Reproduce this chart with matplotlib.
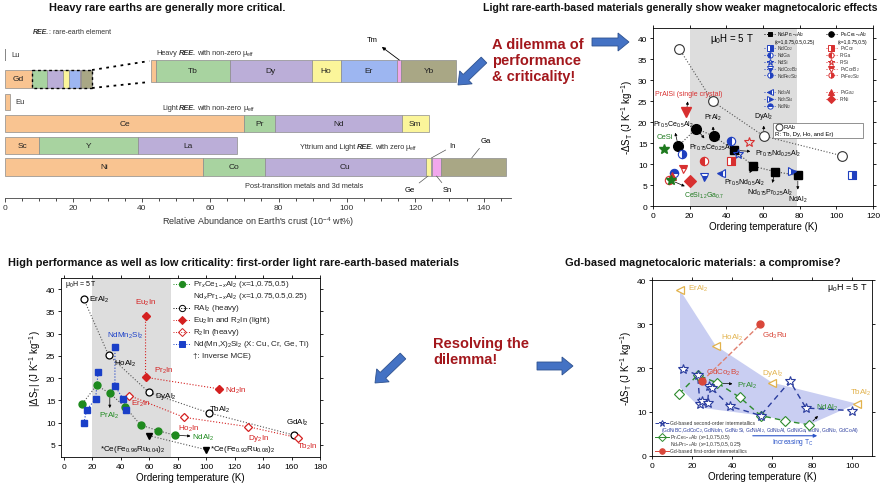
import matplotlib
matplotlib.use('Agg')
import matplotlib.pyplot as plt
from matplotlib.patches import FancyArrow, Rectangle
from matplotlib.transforms import IdentityTransform
import numpy as np

plt.rcParams['font.family'] = ['Liberation Sans', 'DejaVu Sans']
plt.rcParams['mathtext.fontset'] = 'custom'
plt.rcParams['mathtext.rm'] = 'Liberation Sans'
plt.rcParams['mathtext.it'] = 'Liberation Sans:italic'
plt.rcParams['mathtext.bf'] = 'Liberation Sans:bold'
plt.rcParams['axes.linewidth'] = 0.6

# ================= DATA =================
# Panel A: relative abundance on Earth's crust (1e-4 wt%)
lu_abund = 0.3
heavy_names = ['Gd', 'Tb', 'Dy', 'Ho', 'Er', 'Tm', 'Yb']
heavy_abund = [7.9, 4.3, 4.8, 1.7, 3.3, 0.25, 3.2]
eu_abund = 1.4
light_names = ['Ce', 'Pr', 'Nd', 'Sm']
light_abund = [70.0, 9.0, 37.0, 8.0]
zero_names = ['Sc', 'Y', 'La']
zero_abund = [10.0, 29.0, 29.0]
metal_names = ['Ni', 'Co', 'Cu', 'Ge', 'In', 'Sn', 'Ga']
metal_abund = [58.0, 18.0, 47.0, 1.5, 0.4, 2.6, 19.0]

# Panel B: light rare-earth based materials
b_RAl2_T = [14.4, 32.5, 60.4, 103.0]
b_RAl2_S = [37.5, 25.0, 16.7, 12.0]
b_PrCe_T = [13.8, 23.6, 33.0]
b_PrCe_S = [14.3, 18.5, 16.7]
b_NdPr_T = [44.4, 54.7, 66.5, 79.0]
b_NdPr_S = [13.3, 9.5, 8.2, 7.3]
nd_names = ['NdCo$_2$', 'NdGa', 'NdSi', 'NdCo$_2$B$_2$', 'NdFe$_2$Si$_2$',
            'Nd$_3$Al', 'Nd$_5$Si$_4$', 'NdNi$_2$']
nd_T = [108.5, 42.4, 46.5, 27.6, 15.6, 37.0, 75.8, 11.6]
nd_S = [7.3, 15.5, 12.5, 7.0, 12.3, 7.8, 8.3, 7.8]
pr_names = ['PrCo$_2$', 'PrGa', 'PrSi', 'PrCo$_2$B$_2$', 'PrFe$_2$Si$_2$',
            'PrGa$_2$', 'PrNi']
pr_T = [42.7, 27.6, 52.4, 16.4, 8.5, 10.4, 20.4]
pr_S = [10.7, 10.7, 15.2, 8.9, 6.3, 7.1, 6.0]
pralsi_T = [18.2]
pralsi_S = [22.4]
cesi_T = [6.2, 10.0]
cesi_S = [13.7, 6.1]

# Panel C: first-order light rare-earth based materials
c_PrNd_T = [13.1, 23.0, 32.3, 42.9, 53.9, 66.3, 78.0]
c_PrNd_S = [14.3, 18.4, 16.6, 13.6, 9.5, 8.2, 7.2]
c_RAl2_T = [14.0, 31.4, 59.8, 102.0, 162.0]
c_RAl2_S = [37.8, 25.2, 16.8, 12.2, 7.2]
c_R2In_light_T = [57.4, 57.4, 109.2]
c_R2In_light_S = [34.0, 20.2, 17.6]
c_R2In_heavy_T = [46.0, 84.6, 129.6, 164.8]
c_R2In_heavy_S = [16.1, 11.2, 9.1, 6.6]
c_NdMnX_T = [14.0, 16.0, 22.3, 24.1, 35.9, 35.9, 41.7, 43.6]
c_NdMnX_S = [9.9, 12.9, 15.3, 21.4, 27.0, 18.3, 15.3, 12.9]
c_CeFeRu_T = [59.8, 99.9]
c_CeFeRu_S = [7.1, 3.95]

# Panel D: Gd-based materials
d_RAl2_T = [14.0, 31.8, 60.0, 102.3]
d_RAl2_S = [37.7, 25.1, 16.7, 11.9]
d_Gd2nd_T = [15.3, 22.8, 24.0, 25.2, 27.8, 28.5, 29.8, 39.0, 54.3, 69.0, 77.0, 100.2]
d_Gd2nd_S = [19.8, 18.4, 11.8, 12.6, 12.0, 16.0, 15.4, 11.3, 9.2, 17.0, 10.9, 10.3]
d_PrNd_T = [13.5, 22.8, 32.7, 44.0, 54.3, 66.5, 78.5]
d_PrNd_S = [14.1, 18.4, 16.6, 13.3, 9.2, 8.0, 7.1]
d_Gd1st_T = [25.0, 54.2]
d_Gd1st_S = [17.0, 29.9]
shade_low_T = [14.0, 24.0, 54.3, 78.5, 102.3]
shade_low_S = [15.5, 11.0, 9.2, 7.1, 11.9]

# ================= FIGURE =================
W, H = 886, 489
fig = plt.figure(figsize=(W / 100, H / 100), dpi=100)
R = fig.canvas.get_renderer()


def add_ax(l, t, r, b):
    return fig.add_axes([l / W, 1 - b / H, (r - l) / W, (b - t) / H])


def ftext(x, y, s, **kw):
    return fig.text(x / W, 1 - y / H, s, **kw)


def block_arrow(x0, y0, x1, y1, w=8, hw=18, hl=11):
    a = FancyArrow(x0 / 100, (H - y0) / 100, (x1 - x0) / 100, -(y1 - y0) / 100,
                   width=w / 100, head_width=hw / 100, head_length=hl / 100,
                   length_includes_head=True, transform=fig.dpi_scale_trans,
                   fc='#4472C4', ec='#2F528F', lw=0.6)
    fig.add_artist(a)


C_OR = '#F9C491'; C_GR = '#A8D3A0'; C_PU = '#BBAED8'; C_YE = '#FBF59A'
C_BL = '#9DB6F1'; C_PK = '#F1A7EC'; C_OL = '#A9A785'; C_IN = '#E4EEFA'
EDGE = '#8c8c8c'

# ---------------- Panel A ----------------
ax1 = add_ax(5, 20, 511, 199)
ax1.set_xlim(0, 148)
ax1.set_ylim(199, 20)


def stacked(names, vals, start, yc, h, colors, labeled, scale=1.0, fs=6):
    left = start
    for n, v, c, lab in zip(names, vals, colors, labeled):
        w = v * scale
        ax1.barh(yc, w, left=left, height=h, color=c, edgecolor=EDGE, lw=0.5)
        if lab:
            ax1.text(left + w / 2, yc, n, ha='center', va='center', fontsize=fs, color='#222')
        left += w
    return left


heavy_cols = [C_OR, C_GR, C_PU, C_YE, C_BL, C_PK, C_OL]
ax1.barh(56, lu_abund, height=12, color='#888888', lw=0)
ax1.text(2.0, 56, 'Lu', fontsize=5.5, va='center', color='#333')
end_small = stacked(heavy_names, heavy_abund, 0, 80, 18, heavy_cols,
                    [True] + [False] * 6, fs=6)
ax1.add_patch(Rectangle((heavy_abund[0], 71), end_small - heavy_abund[0], 18,
                        fill=False, ec='k', lw=1.0, ls=(0, (2, 2)), zorder=3))
zoom_start, gd_tip, mag = 42.7, 1.5, 5.0
ax1.barh(72, gd_tip, left=zoom_start, height=22, color=C_OR, edgecolor=EDGE, lw=0.5)
stacked(heavy_names[1:], heavy_abund[1:], zoom_start + gd_tip, 72, 22, heavy_cols[1:],
        [True, True, True, True, False, True], scale=mag, fs=6)
ax1.plot([end_small, zoom_start - 0.5], [71, 62], ls=(0, (1.5, 2.5)), color='k', lw=1.3)
ax1.plot([end_small, zoom_start - 0.5], [89, 83], ls=(0, (1.5, 2.5)), color='k', lw=1.3)
ax1.barh(103, eu_abund, height=16, color=C_OR, edgecolor=EDGE, lw=0.5)
ax1.text(3.0, 103, 'Eu', fontsize=5.5, va='center', color='#333')
stacked(light_names, light_abund, 0, 124.5, 17, [C_OR, C_GR, C_PU, C_YE], [True] * 4)
stacked(zero_names, zero_abund, 0, 146.5, 17, [C_OR, C_GR, C_PU], [True] * 3)
stacked(metal_names, metal_abund, 0, 168, 18, [C_OR, C_GR, C_PU, C_YE, C_IN, C_PK, C_OL],
        [True, True, True, False, False, False, False])

cum_m = np.cumsum([0] + metal_abund)
tm_x = zoom_start + gd_tip + mag * sum(heavy_abund[1:5]) + mag * heavy_abund[5] / 2
ax1.annotate('Tm', xy=(tm_x, 61), xytext=(107.5, 41), fontsize=5.5, ha='center', va='center',
             arrowprops=dict(arrowstyle='<|-', color='k', lw=0.6, mutation_scale=5,
                             shrinkA=1, shrinkB=0))
line_kw = dict(arrowstyle='-', color='#555', lw=0.5, shrinkA=1, shrinkB=0)
ax1.annotate('In', xy=((cum_m[4] + cum_m[5]) / 2, 159), xytext=(131.0, 147), fontsize=5.5,
             ha='center', va='center', arrowprops=line_kw)
ax1.annotate('Ge', xy=((cum_m[3] + cum_m[4]) / 2, 177), xytext=(118.5, 191), fontsize=5.5,
             ha='center', va='center', arrowprops=line_kw)
ax1.annotate('Sn', xy=((cum_m[5] + cum_m[6]) / 2, 177), xytext=(129.5, 191), fontsize=5.5,
             ha='center', va='center', arrowprops=line_kw)
ax1.annotate('Ga', xy=(136.5, 159), xytext=(140.5, 142), fontsize=5.5,
             ha='center', va='center', arrowprops=line_kw)


def twidth(s, fs, **kw):
    t = fig.text(0, 0, s, fontsize=fs, **kw)
    w = t.get_window_extent(R).width
    t.remove()
    return w


def chain(ax, x, y, parts, fs):
    X, Y = ax.transData.transform((x, y))
    sp = 0.6 * (twidth('x x', fs) - twidth('xx', fs))
    for s, kw in parts:
        if s.startswith(' '):
            X += sp
        st = s.strip()
        t = fig.text(X, Y, st, fontsize=fs, va='baseline', ha='left', color='#333',
                     transform=IdentityTransform(), **kw)
        X += t.get_window_extent(R).width
        if s.endswith(' '):
            X += sp


BI = dict(fontweight='bold', fontstyle='italic')
chain(ax1, 8.2, 34, [('REE.', BI), (': rare-earth element', {})], 5)
chain(ax1, 44.4, 55.5, [('Heavy ', {}), ('REE.', BI), (' with non-zero', {}),
                        (' μ$_{\\rm eff}$', {})], 5.3)
chain(ax1, 45.9, 110.5, [('Light ', {}), ('REE.', BI), (' with non-zero', {}),
                         (' μ$_{\\rm eff}$', {})], 5.3)
chain(ax1, 86.3, 149.5, [('Yttrium and Light ', {}), ('REE.', BI), (' with zero', {}),
                         (' μ$_{\\rm eff}$', {})], 5.3)
ax1.text(70.2, 187, 'Post-transition metals and 3d metals', fontsize=5.3, va='center', color='#333')

for sp in ['top', 'right', 'left']:
    ax1.spines[sp].set_visible(False)
ax1.spines['bottom'].set_color('#444')
ax1.set_yticks([])
ax1.set_xticks(np.arange(0, 141, 20))
ax1.set_xticks(np.arange(0, 148, 5), minor=True)
ax1.tick_params(axis='x', labelsize=6, length=3, width=0.6, pad=1.5, colors='#333')
ax1.tick_params(axis='x', which='minor', length=1.8, width=0.5)
ax1.set_xlabel("Relative Abundance on Earth's crust (10$^{-4}$ wt%)", fontsize=6.5,
               labelpad=2, color='#333')


def style_ax(ax):
    ax.tick_params(labelsize=6, length=2.5, width=0.6, pad=1.5, direction='out',
                   right=True, top=True)


def key(ax, xc, yc, marker, color, fs='full', ms=4, ls=':', halfw=0.025, mfc=None, mew=0.7):
    ax.plot([xc - halfw, xc + halfw], [yc, yc], transform=ax.transAxes, ls=ls, color=color,
            lw=0.7, clip_on=False)
    ax.plot([xc], [yc], transform=ax.transAxes, marker=marker, color=color, fillstyle=fs,
            markerfacecoloralt='white', mfc=mfc if mfc else color, mec=color, ms=ms,
            mew=mew, ls='none', clip_on=False)


# ---------------- Panel B ----------------
ax2 = add_ax(653, 29, 873, 207)
ax2.set_xlim(0, 120)
ax2.set_ylim(0, 42.5)
ax2.axvspan(20, 78.5, color='#DDDDDD', lw=0, zorder=0)
ax2.plot(b_RAl2_T, b_RAl2_S, ls=':', color='#555', lw=0.8, marker='o', mfc='white',
         mec='#333', ms=7, mew=0.8, zorder=3)
ax2.plot(b_PrCe_T + b_NdPr_T[:1], b_PrCe_S + b_NdPr_S[:1], ls=':', color='#444', lw=0.8, zorder=2)
ax2.plot(b_NdPr_T, b_NdPr_S, ls=':', color='#444', lw=0.8, zorder=2)
ax2.plot(b_PrCe_T, b_PrCe_S, ls='none', marker='o', color='k', ms=7, zorder=3)
ax2.plot(b_NdPr_T, b_NdPr_S, ls='none', marker='s', color='k', ms=6, zorder=3)

BLUE2 = '#1F3FBF'
RED2 = '#D83030'
GREEN2 = '#1E7A1E'
nd_styles = [('s', 'right'), ('o', 'left'), ('*', 'none'), ('v', 'bottom'), ('o', 'right'),
             ('<', 'left'), ('>', 'right'), ('o', 'top')]
pr_styles = [('s', 'right'), ('o', 'left'), ('*', 'none'), ('v', 'top'), ('o', 'right'),
             ('^', 'full'), ('D', 'full')]
for T, S, (m, f) in zip(nd_T, nd_S, nd_styles):
    ax2.plot([T], [S], marker=m, fillstyle=f, color=BLUE2, mec=BLUE2, markerfacecoloralt='white',
             ms=7 if m == '*' else 6, mew=0.8, ls='none', zorder=4)
for T, S, (m, f) in zip(pr_T, pr_S, pr_styles):
    ax2.plot([T], [S], marker=m, fillstyle=f, color=RED2, mec=RED2, markerfacecoloralt='white',
             ms=7 if m == '*' else 6, mew=0.8, ls='none', zorder=4)
ax2.plot(pralsi_T, pralsi_S, marker='v', color=RED2, ms=7, ls='none', zorder=4)
ax2.plot(cesi_T, cesi_S, marker='*', color=GREEN2, ms=7.5, ls='none', zorder=4)

akw = dict(arrowstyle='<|-', color='k', lw=0.5, mutation_scale=4, shrinkA=1, shrinkB=4)
ax2.annotate('PrAlSi (single crystal)', xy=(pralsi_T[0], pralsi_S[0]), xytext=(19.5, 26.8),
             fontsize=5, color=RED2, ha='center', va='center', arrowprops=akw)
ax2.annotate('Pr$_{0.5}$Ce$_{0.5}$Al$_2$', xy=(b_PrCe_T[0], b_PrCe_S[0]), xytext=(11, 19.7),
             fontsize=5, ha='center', va='center', arrowprops=akw)
ax2.annotate('PrAl$_2$', xy=(b_PrCe_T[2], b_PrCe_S[2]), xytext=(32.5, 21.2),
             fontsize=5, ha='center', va='center', arrowprops=akw)
ax2.annotate('Pr$_{0.75}$Ce$_{0.25}$Al$_2$', xy=(b_PrCe_T[1], b_PrCe_S[1]), xytext=(32, 14.0),
             fontsize=5, ha='center', va='center', arrowprops=akw)
ax2.annotate('Pr$_{0.75}$Nd$_{0.25}$Al$_2$', xy=(b_NdPr_T[0], b_NdPr_S[0]), xytext=(68, 12.6),
             fontsize=5, ha='center', va='center', arrowprops=akw)
ax2.annotate('Pr$_{0.5}$Nd$_{0.5}$Al$_2$', xy=(b_NdPr_T[1], b_NdPr_S[1]), xytext=(50, 5.7),
             fontsize=5, ha='center', va='center', arrowprops=akw)
ax2.annotate('Nd$_{0.75}$Pr$_{0.25}$Al$_2$', xy=(b_NdPr_T[2], b_NdPr_S[2]), xytext=(64, 3.3),
             fontsize=5, ha='center', va='center', arrowprops=akw)
ax2.annotate('NdAl$_2$', xy=(b_NdPr_T[3], b_NdPr_S[3]), xytext=(79, 1.7),
             fontsize=5, ha='center', va='center', arrowprops=akw)
ax2.annotate('DyAl$_2$', xy=(b_RAl2_T[2], b_RAl2_S[2]), xytext=(60.4, 21.5),
             fontsize=5, ha='center', va='center', arrowprops=akw)
ax2.text(6.5, 16.5, 'CeSi', fontsize=5.5, color=GREEN2, ha='center', va='center')
ax2.annotate('CeSi$_{1.2}$Ga$_{0.7}$', xy=(cesi_T[1], cesi_S[1]), xytext=(28, 2.7),
             fontsize=5, color=GREEN2, ha='center', va='center',
             arrowprops=dict(arrowstyle='<|-', color='k', lw=0.5, mutation_scale=4,
                             shrinkA=1, shrinkB=3))
ax2.text(43, 40.2, 'μ$_0$H = 5 T', fontsize=7, ha='center', va='center')

ax2.add_patch(Rectangle((65.5, 16.3), 49, 3.6, fc='white', ec='#666', lw=0.5, zorder=5))
ax2.plot([68.7], [18.9], marker='o', mfc='white', mec='#333', ms=5, mew=0.7, zorder=6)
ax2.text(71, 18.9, 'RAl$_2$', fontsize=4.3, va='center', zorder=6)
ax2.text(66.5, 17.2, 'R: Tb, Dy, Ho, and Er)', fontsize=4.3, va='center', zorder=6)


def yrow(i):
    return 1 - (35 + 6.9 * i - 29) / 178


LF = 3.4
c1h, c1t, c2h, c2t = 0.53, 0.565, 0.81, 0.85
key(ax2, c1h, yrow(0), 's', 'k', ms=3.5)
ax2.text(c1t, yrow(0), 'Nd$_x$Pr$_{1-x}$Al$_2$', transform=ax2.transAxes, fontsize=LF, va='center')
ax2.text(c1t - 0.01, yrow(1.1), '(x=1,0.75,0.5,0.25)', transform=ax2.transAxes, fontsize=3.4, va='center')
key(ax2, c2h, yrow(0), 'o', 'k', ms=4)
ax2.text(c2t, yrow(0), 'Pr$_x$Ce$_{1-x}$Al$_2$', transform=ax2.transAxes, fontsize=LF, va='center')
ax2.text(c2t - 0.01, yrow(1.1), '(x=1,0.75,0.5)', transform=ax2.transAxes, fontsize=3.4, va='center')
nd_rows = [2, 3, 4, 5, 6, 8.4, 9.4, 10.4]
pr_rows = [2, 3, 4, 5, 6, 8.4, 9.4]
for n, r, (m, f) in zip(nd_names, nd_rows, nd_styles):
    key(ax2, c1h, yrow(r), m, BLUE2, fs=f, ms=4.5 if m == '*' else 3.8)
    ax2.text(c1t, yrow(r), n, transform=ax2.transAxes, fontsize=LF, va='center', color='#333')
for n, r, (m, f) in zip(pr_names, pr_rows, pr_styles):
    key(ax2, c2h, yrow(r), m, RED2, fs=f, ms=4.5 if m == '*' else 3.8)
    ax2.text(c2t, yrow(r), n, transform=ax2.transAxes, fontsize=LF, va='center', color='#333')

style_ax(ax2)
ax2.set_xticks(np.arange(0, 121, 20))
ax2.set_yticks(np.arange(0, 41, 5))
ax2.set_xlabel('Ordering temperature (K)', fontsize=7, labelpad=2)
ax2.set_ylabel('-ΔS$_\\mathrm{T}$ (J K$^{-1}$ kg$^{-1}$)', fontsize=7, labelpad=2)

# ---------------- Panel C ----------------
ax3 = add_ax(61, 279, 320, 458)
ax3.set_xlim(-2, 180)
ax3.set_ylim(2.3, 42.5)
ax3.axvspan(20, 75, color='#DDDDDD', lw=0, zorder=0)
GREEN3 = '#1E8A1E'; RED3 = '#D42020'; BLUE3 = '#1A3FC8'
ax3.plot(c_RAl2_T, c_RAl2_S, ls=':', color='#555', lw=0.8, zorder=2)
ax3.plot(c_PrNd_T, c_PrNd_S, ls=':', color='#555', lw=0.8, zorder=2)
ax3.plot(c_R2In_light_T, c_R2In_light_S, ls=':', color=RED3, lw=0.8, zorder=2)
ax3.plot(c_R2In_heavy_T, c_R2In_heavy_S, ls=':', color=RED3, lw=0.8, zorder=2)
ax3.plot(c_NdMnX_T[:4], c_NdMnX_S[:4], ls=':', color=BLUE3, lw=0.8, zorder=2)
ax3.plot(c_NdMnX_T[4:], c_NdMnX_S[4:], ls=':', color=BLUE3, lw=0.8, zorder=2)
ax3.plot(c_CeFeRu_T, c_CeFeRu_S, ls=':', color='#555', lw=0.8, zorder=2)
ax3.plot(c_RAl2_T, c_RAl2_S, ls='none', marker='o', mfc='white', mec='k', ms=5, mew=0.9, zorder=4)
ax3.plot(c_PrNd_T, c_PrNd_S, ls='none', marker='o', color=GREEN3, ms=5, zorder=4)
ax3.plot(c_R2In_light_T, c_R2In_light_S, ls='none', marker='D', color=RED3, ms=4.5, zorder=4)
ax3.plot(c_R2In_heavy_T, c_R2In_heavy_S, ls='none', marker='D', mfc='white', mec=RED3, ms=4.5,
         mew=0.9, zorder=4)
ax3.plot(c_NdMnX_T, c_NdMnX_S, ls='none', marker='s', color=BLUE3, ms=4.5, zorder=4)
ax3.plot(c_CeFeRu_T, c_CeFeRu_S, ls='none', marker='v', color='k', ms=5, zorder=4)

LFS = 5.8
ax3.text(1, 41.3, 'μ$_0$H = 5 T', fontsize=5, va='center')
ax3.text(18, 37.8, 'ErAl$_2$', fontsize=LFS, va='center')
ax3.text(57.5, 37.2, 'Eu$_2$In', fontsize=LFS, va='center', ha='center', color=RED3)
ax3.text(43, 29.7, 'NdMn$_2$Si$_2$', fontsize=LFS, va='center', ha='center', color=BLUE3)
ax3.text(35, 23.5, 'HoAl$_2$', fontsize=LFS, va='center')
ax3.text(63, 21.8, 'Pr$_2$In', fontsize=LFS, va='center', color=RED3)
ax3.text(113, 17.4, 'Nd$_2$In', fontsize=LFS, va='center', color=RED3)
ax3.text(64, 16.1, 'DyAl$_2$', fontsize=LFS, va='center')
ax3.text(47.5, 14.4, 'Er$_2$In', fontsize=LFS, va='center', color=RED3)
ax3.text(102, 13.2, 'TbAl$_2$', fontsize=LFS, va='center')
ax3.text(32, 11.8, 'PrAl$_2$', fontsize=LFS, va='center', ha='center', color=GREEN3)
ax3.text(88, 8.9, 'Ho$_2$In', fontsize=LFS, va='center', ha='center', color=RED3)
ax3.text(164, 10.1, 'GdAl$_2$', fontsize=LFS, va='center', ha='center')
ax3.text(137, 6.6, 'Dy$_2$In', fontsize=LFS, va='center', ha='center', color=RED3)
ax3.text(171, 4.8, 'Tb$_2$In', fontsize=LFS, va='center', ha='center', color=RED3)
ax3.text(90, 6.9, 'NdAl$_2$', fontsize=LFS, va='center', color=GREEN3)
ax3.text(48.5, 4.1, '*Ce(Fe$_{0.96}$Ru$_{0.04}$)$_2$', fontsize=LFS, va='center', ha='center')
ax3.text(103, 4.1, '*Ce(Fe$_{0.92}$Ru$_{0.08}$)$_2$', fontsize=LFS, va='center')
ax3.annotate('', xy=(32.3, 13.3), xytext=(c_PrNd_T[2], c_PrNd_S[2]),
             arrowprops=dict(arrowstyle='-|>', color='k', lw=0.5, mutation_scale=4, shrinkA=3, shrinkB=0))
ax3.annotate('', xy=(89, 7.0), xytext=(c_PrNd_T[6], c_PrNd_S[6]),
             arrowprops=dict(arrowstyle='-|>', color='k', lw=0.5, mutation_scale=4, shrinkA=3, shrinkB=0))


def yrow3(py):
    return 1 - (py - 279) / 179


h3, t3 = 0.467, 0.51
rows3 = [285, 297, 309, 321, 333, 345, 357]
key(ax3, h3, yrow3(rows3[0]), 'o', GREEN3, ms=4.5, halfw=0.033)
key(ax3, h3, yrow3(rows3[2]), 'o', 'k', fs='none', ms=4.5, halfw=0.033)
key(ax3, h3, yrow3(rows3[3]), 'D', RED3, ms=4, halfw=0.033)
key(ax3, h3, yrow3(rows3[4]), 'D', RED3, fs='none', ms=4, halfw=0.033)
key(ax3, h3, yrow3(rows3[5]), 's', BLUE3, ms=4, halfw=0.033)
leg3 = ['Pr$_x$Ce$_{1-x}$Al$_2$ (x=1,0.75,0.5)', 'Nd$_x$Pr$_{1-x}$Al$_2$ (x=1,0.75,0.5,0.25)',
        'RAl$_2$ (heavy)', 'Eu$_2$In and R$_2$In (light)', 'R$_2$In (heavy)',
        'Nd(Mn,X)$_2$Si$_2$ (X: Cu, Cr, Ge, Ti)', '†: Inverse MCE)']
for r, s in zip(rows3, leg3):
    ax3.text(t3, yrow3(r), s, transform=ax3.transAxes, fontsize=5.8, va='center', color='#222')

style_ax(ax3)
ax3.set_xticks(np.arange(0, 181, 20))
ax3.set_yticks(np.arange(5, 41, 5))
ax3.set_xlabel('Ordering temperature (K)', fontsize=7, labelpad=2)
ax3.set_ylabel('|ΔS$_\\mathrm{T}$| (J K$^{-1}$ kg$^{-1}$)', fontsize=7, labelpad=2)

# ---------------- Panel D ----------------
ax4 = add_ax(652, 281, 872, 457)
ax4.set_xlim(0, 110)
ax4.set_ylim(0, 40)
GOLD = '#E2B24C'; BLUE4 = '#2A3C9E'; GREEN4 = '#2E8B2E'; RED4 = '#D9473A'
ax4.fill(list(d_RAl2_T) + shade_low_T[::-1], list(d_RAl2_S) + shade_low_S[::-1],
         color='#C9CEF2', lw=0, zorder=0)
ax4.plot(d_Gd1st_T, d_Gd1st_S, ls='--', color='#E08070', lw=1.0, zorder=2)
ax4.plot(d_PrNd_T, d_PrNd_S, ls='--', color=GREEN4, lw=1.0, dashes=(4, 3), zorder=2)
ax4.plot(d_Gd2nd_T, d_Gd2nd_S, ls='--', color=BLUE4, lw=1.0, dashes=(4, 3), zorder=3)
ax4.plot(d_PrNd_T, d_PrNd_S, ls='none', marker='D', mfc='white', mec=GREEN4, ms=5, mew=0.8, zorder=4)
ax4.plot(d_Gd2nd_T, d_Gd2nd_S, ls='none', marker='*', mfc='white', mec=BLUE4, ms=7.5, mew=0.8, zorder=5)
ax4.plot(d_Gd1st_T, d_Gd1st_S, ls='none', marker='o', color=RED4, ms=5, zorder=5)
ax4.plot(d_RAl2_T, d_RAl2_S, ls='none', marker='<', mfc='white', mec=GOLD, ms=6, mew=0.9, zorder=5)

LF4 = 5.8
ax4.text(18, 38.2, 'ErAl$_2$', fontsize=LF4, color=GOLD, va='center')
ax4.text(34.3, 27.0, 'HoAl$_2$', fontsize=LF4, color=GOLD, va='center')
ax4.text(55, 19.0, 'DyAl$_2$', fontsize=LF4, color=GOLD, va='center')
ax4.text(99, 14.5, 'TbAl$_2$', fontsize=LF4, color=GOLD, va='center')
ax4.text(55, 27.5, 'Gd$_3$Ru', fontsize=LF4, color=RED4, va='center')
ax4.text(27, 19.0, 'GdCo$_2$B$_2$', fontsize=LF4, color=RED4, va='center')
ax4.annotate('PrAl$_2$', xy=(d_PrNd_T[2], d_PrNd_S[2]), xytext=(42.3, 16.2), fontsize=LF4,
             color=GREEN4, va='center',
             arrowprops=dict(arrowstyle='<|-', color='k', lw=0.5, mutation_scale=4, shrinkA=1, shrinkB=4))
ax4.annotate('NdAl$_2$', xy=(d_PrNd_T[6], d_PrNd_S[6]), xytext=(82, 11.1), fontsize=LF4,
             color=GREEN4, va='center',
             arrowprops=dict(arrowstyle='<|-', color='k', lw=0.5, mutation_scale=4, shrinkA=1, shrinkB=4))
ax4.text(108, 38.5, 'μ$_0$H = 5 T', fontsize=6.5, ha='right', va='center')


def yrow4(py):
    return 1 - (py - 281) / 176


def xcol4(px):
    return (px - 652) / 220


L4 = 3.6
key(ax4, xcol4(662), yrow4(424), '*', BLUE4, fs='none', ms=5, ls='--', halfw=0.03)
ax4.text(xcol4(670), yrow4(424), 'Gd-based second-order intermetallics', transform=ax4.transAxes,
         fontsize=L4, va='center', color='#333')
ax4.text(xcol4(661), yrow4(431),
         '(GdNiBC,GdCoC$_2$, GdNi$_2$In, GdNi$_2$Si, GdNiAl$_2$, GdNi$_2$Al, GdNiGa, GdNi, GdNi$_2$, GdCoAl)',
         transform=ax4.transAxes, fontsize=L4, va='center', color=BLUE4)
key(ax4, xcol4(662), yrow4(438), 'D', GREEN4, fs='none', ms=4, ls='-', halfw=0.03)
ax4.text(xcol4(670), yrow4(438), 'Pr$_x$Ce$_{1-x}$Al$_2$ (x=1,0.75,0.5)', transform=ax4.transAxes,
         fontsize=L4, va='center', color='#333')
ax4.text(xcol4(670), yrow4(445), 'Nd$_x$Pr$_{1-x}$Al$_2$ (x=1,0.75,0.5,0.25)', transform=ax4.transAxes,
         fontsize=L4, va='center', color='#333')
key(ax4, xcol4(662), yrow4(452), 'o', RED4, ms=4, ls='-', halfw=0.03)
ax4.text(xcol4(670), yrow4(452), 'Gd-based first-order intermetallics', transform=ax4.transAxes,
         fontsize=L4, va='center', color='#333')
ax4.annotate('', xy=(84, 4.6), xytext=(49, 4.6),
             arrowprops=dict(arrowstyle='-|>', color='#2D55C8', lw=0.8, mutation_scale=5))
ax4.text(70.5, 3.2, 'Increasing T$_\\mathrm{C}$', fontsize=4.8, color='#2D55C8', ha='center', va='center')

style_ax(ax4)
ax4.set_xticks(np.arange(0, 101, 20))
ax4.set_yticks(np.arange(0, 41, 10))
ax4.set_xlabel('Ordering temperature (K)', fontsize=7, labelpad=2)
ax4.set_ylabel('-ΔS$_\\mathrm{T}$ (J K$^{-1}$ kg$^{-1}$)', fontsize=7, labelpad=2)

# ---------------- Titles, call-outs, arrows ----------------
TB = dict(fontsize=7.9, fontweight='bold', va='center', color='#111')
ftext(167, 8, 'Heavy rare earths are generally more critical.', ha='center', **TB)
TB2 = dict(TB, fontsize=7.55)
ftext(680, 8, 'Light rare-earth-based materials generally show weaker magnetocaloric effects',
      ha='center', **TB2)
ftext(8, 263, 'High performance as well as low criticality: first-order light rare-earth-based materials',
      ha='left', **TB)
ftext(703, 263, 'Gd-based magnetocaloric materials: a compromise?', ha='center', **TB)

DR = '#A3171C'
ftext(492, 61, 'A dilemma of\nperformance\n& criticality!', ha='left', va='center',
      fontsize=10.5, fontweight='bold', color=DR, linespacing=1.15)
ftext(433, 352, 'Resolving the\ndilemma!', ha='left', va='center',
      fontsize=10.5, fontweight='bold', color=DR, linespacing=1.15)

block_arrow(592, 43, 629, 43)
block_arrow(484, 61, 458, 86)
block_arrow(537, 367, 573, 367)
block_arrow(403, 357, 375, 384)

fig.savefig('out.png', dpi=100)
